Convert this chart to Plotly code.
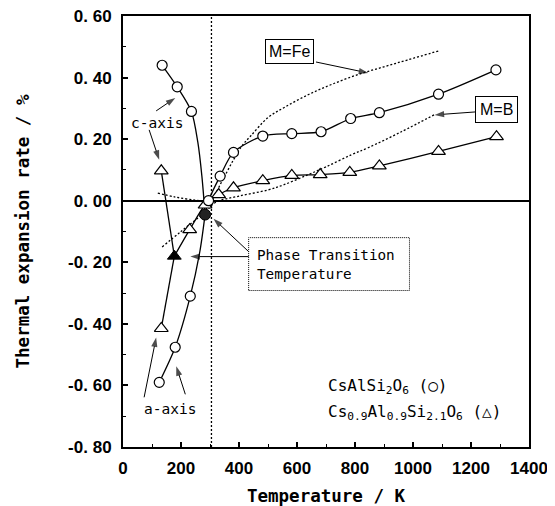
import plotly.graph_objects as go

# ---------------- data ----------------
# CsAlSi2O6 (circles)
circ_c_T = [135, 187, 236]
circ_c_v = [0.44, 0.37, 0.29]
circ_c_curve_T = [135, 187, 236, 258, 272, 283]
circ_c_curve_v = [0.44, 0.37, 0.29, 0.19, 0.08, -0.045]

circ_a_T = [125, 180, 232]
circ_a_v = [-0.59, -0.476, -0.31]
circ_a_curve_T = [125, 180, 232, 265, 283]
circ_a_curve_v = [-0.59, -0.476, -0.31, -0.165, -0.045]

circ_hi_T = [295, 335, 381, 482, 582, 683, 785, 884, 1088, 1286]
circ_hi_v = [0.0, 0.08, 0.157, 0.21, 0.218, 0.224, 0.267, 0.286, 0.346, 0.425]

circ_trans_T = [283]
circ_trans_v = [-0.045]

# Cs0.9Al0.9Si2.1O6 (triangles)
tri_c_T = [132]
tri_c_v = [0.097]
tri_a_T = [132]
tri_a_v = [-0.415]

tri_hi_T = [230, 283, 330, 381, 482, 582, 680, 782, 884, 1088, 1288]
tri_hi_v = [-0.094, -0.014, 0.02, 0.042, 0.065, 0.082, 0.085, 0.092, 0.113, 0.16, 0.208]

tri_trans_T = [177]
tri_trans_v = [-0.18]

# dotted reference curves
fe_T = [120, 180, 250, 290, 312, 345, 381, 410, 440, 500, 560, 640, 720, 811, 900, 980, 1090]
fe_v = [0.025, 0.012, 0.002, 0.0, 0.015, 0.07, 0.133, 0.178, 0.21, 0.27, 0.305, 0.345, 0.378, 0.41, 0.435, 0.457, 0.487]

b_T = [135, 200, 284, 320, 400, 500, 555, 637, 700, 787, 845, 960, 1075]
b_v = [-0.15, -0.10, -0.036, -0.005, 0.015, 0.035, 0.052, 0.084, 0.11, 0.149, 0.172, 0.224, 0.28]

transition_T = 305
y_range = [-0.8, 0.6]
x_range = [0, 1400]

x_ticks = [0, 200, 400, 600, 800, 1000, 1200, 1400]
x_ticktext = ["0", "200", "400", "600", "800", "1000", "1200", "1400"]
y_ticks = [-0.8, -0.6, -0.4, -0.2, 0.0, 0.2, 0.4, 0.6]
y_ticktext = ["-0. 80", "-0. 60", "-0. 40", "-0. 20", "0. 00", "0. 20", "0. 40", "0. 60"]

# ---------------- styles ----------------
TICKFONT = "Liberation Sans, Arial, sans-serif"
MONO = "DejaVu Sans Mono, monospace"
SANS = "Liberation Sans, Arial, sans-serif"
DOT = "2px,2px"

circ_marker = dict(symbol="circle", size=10, color="white", line=dict(color="black", width=1.2))
tri_marker = dict(symbol="triangle-up", size=12, color="white", line=dict(color="black", width=1.2))

fig = go.Figure()

# vertical dotted line at transition temperature
fig.add_trace(go.Scatter(x=[transition_T, transition_T], y=y_range, mode="lines",
                         line=dict(color="black", width=1.3, dash=DOT), hoverinfo="skip"))
# dotted curves
fig.add_trace(go.Scatter(x=fe_T, y=fe_v, mode="lines", line=dict(color="black", width=1.3, dash=DOT, shape="spline")))
fig.add_trace(go.Scatter(x=b_T, y=b_v, mode="lines", line=dict(color="black", width=1.3, dash=DOT, shape="spline")))

# solid curves
solid = dict(color="black", width=1.3, shape="spline", smoothing=0.8)
fig.add_trace(go.Scatter(x=circ_c_curve_T, y=circ_c_curve_v, mode="lines", line=solid))
fig.add_trace(go.Scatter(x=circ_a_curve_T, y=circ_a_curve_v, mode="lines", line=solid))
fig.add_trace(go.Scatter(x=circ_trans_T + circ_hi_T, y=circ_trans_v + circ_hi_v, mode="lines", line=solid))
fig.add_trace(go.Scatter(x=tri_c_T + tri_trans_T, y=tri_c_v + tri_trans_v, mode="lines", line=solid))
fig.add_trace(go.Scatter(x=tri_a_T + tri_trans_T, y=tri_a_v + tri_trans_v, mode="lines", line=solid))
fig.add_trace(go.Scatter(x=tri_trans_T + tri_hi_T, y=tri_trans_v + tri_hi_v, mode="lines", line=solid))

# markers
fig.add_trace(go.Scatter(x=tri_c_T + tri_a_T + tri_hi_T, y=tri_c_v + tri_a_v + tri_hi_v,
                         mode="markers", marker=tri_marker))
fig.add_trace(go.Scatter(x=circ_c_T + circ_a_T + circ_hi_T, y=circ_c_v + circ_a_v + circ_hi_v,
                         mode="markers", marker=circ_marker))
fig.add_trace(go.Scatter(x=tri_trans_T, y=tri_trans_v, mode="markers",
                         marker=dict(symbol="triangle-up", size=12, color="black", line=dict(color="black", width=1))))
fig.add_trace(go.Scatter(x=circ_trans_T, y=circ_trans_v, mode="markers",
                         marker=dict(symbol="circle", size=11, color="#222", line=dict(color="black", width=1))))

# ---------------- arrows (line + arrow-shaped marker at the head) ----------------
def px2T(px):
    return (px - 123) / 0.2885

def py2v(py):
    return (201 - py) / 308.5

arrows = [
    ((315, 62), (367, 73)),   # M=Fe
    ((474, 112), (433, 115)),  # M=B
    ((156, 111), (175, 98)),   # c-axis -> circles
    ((149, 130), (159, 160)),  # c-axis -> triangle
    ((144, 398), (156, 338)),  # a-axis -> triangle
    ((185, 395), (176, 367)),  # a-axis -> circles
    ((248, 252), (213, 219)),  # phase -> filled circle
    ((248, 257), (190, 257)),  # phase -> filled triangle
]
for (tx, ty), (hx, hy) in arrows:
    fig.add_trace(go.Scatter(x=[px2T(tx), px2T(hx)], y=[py2v(ty), py2v(hy)], mode="lines+markers",
                             line=dict(color="black", width=1),
                             marker=dict(symbol="arrow", size=[0, 10], angleref="previous",
                                         color="black", line=dict(width=0)),
                             hoverinfo="skip"))

# ---------------- text labels ----------------
fig.add_annotation(x=px2T(289), y=py2v(51), text="M=Fe", showarrow=False,
                   font=dict(family=SANS, size=16, color="black"),
                   bordercolor="black", borderwidth=1, borderpad=3, bgcolor="white")
fig.add_annotation(x=px2T(495), y=py2v(110), text="M=B", showarrow=False,
                   font=dict(family=SANS, size=16, color="black"),
                   bordercolor="black", borderwidth=1, borderpad=4, bgcolor="white")
fig.add_annotation(x=px2T(157), y=py2v(123), text="c-axis", showarrow=False,
                   font=dict(family=MONO, size=14.5, color="black"))
fig.add_annotation(x=px2T(170), y=py2v(410), text="a-axis", showarrow=False,
                   font=dict(family=MONO, size=14.5, color="black"))

fig.add_shape(type="rect", xref="x", yref="y", x0=px2T(248), x1=px2T(408), y0=py2v(291), y1=py2v(238),
              line=dict(color="black", width=1, dash="1px,1px"), fillcolor="rgba(0,0,0,0)")
fig.add_annotation(x=px2T(254), y=py2v(264.5), text="Phase Transition<br>Temperature", showarrow=False,
                   xanchor="left", yanchor="middle", align="left",
                   font=dict(family=MONO, size=14.3, color="black"))

fig.add_annotation(x=px2T(325), y=py2v(387), text="CsAlSi<sub>2</sub>O<sub>6</sub> (○)", showarrow=False,
                   xanchor="left", yanchor="middle", font=dict(family=MONO, size=16, color="black"))
fig.add_annotation(x=px2T(325), y=py2v(413), text="Cs<sub>0.9</sub>Al<sub>0.9</sub>Si<sub>2.1</sub>O<sub>6</sub> (△)",
                   showarrow=False, xanchor="left", yanchor="middle",
                   font=dict(family=MONO, size=16, color="black"))

# ---------------- layout ----------------
axis_common = dict(showline=True, linewidth=2, linecolor="black", mirror=True, showgrid=False,
                   automargin=False, ticklabeloverflow="allow",
                   ticks="inside", ticklen=5, tickwidth=1.5, tickcolor="black",
                   tickfont=dict(family=TICKFONT, size=17, color="black", weight="bold"))

# the page body adds an 8px offset, so the figure is sized/margined to compensate
fig.update_layout(
    width=547, height=498,
    margin=dict(l=115, r=26, t=8, b=59),
    paper_bgcolor="white", plot_bgcolor="white",
    showlegend=False,
    xaxis=dict(range=x_range, tickvals=x_ticks, ticktext=x_ticktext, zeroline=False,
               minor=dict(dtick=100, ticks="inside", ticklen=3, tickcolor="black", tickwidth=1),
               ticklabelstandoff=5,
               title=dict(text="Temperature / K", standoff=12,
                          font=dict(family=MONO, size=17.5, color="black", weight="bold")),
               **axis_common),
    yaxis=dict(range=y_range, tickvals=y_ticks, ticktext=y_ticktext,
               zeroline=True, zerolinecolor="black", zerolinewidth=2,
               minor=dict(dtick=0.1, ticks="inside", ticklen=3, tickcolor="black", tickwidth=1),
               ticklabelstandoff=6,
               title=dict(text="Thermal expansion rate / %", standoff=34,
                          font=dict(family=MONO, size=17.5, color="black", weight="bold")),
               **axis_common),
)

fig.write_html("out.html")
